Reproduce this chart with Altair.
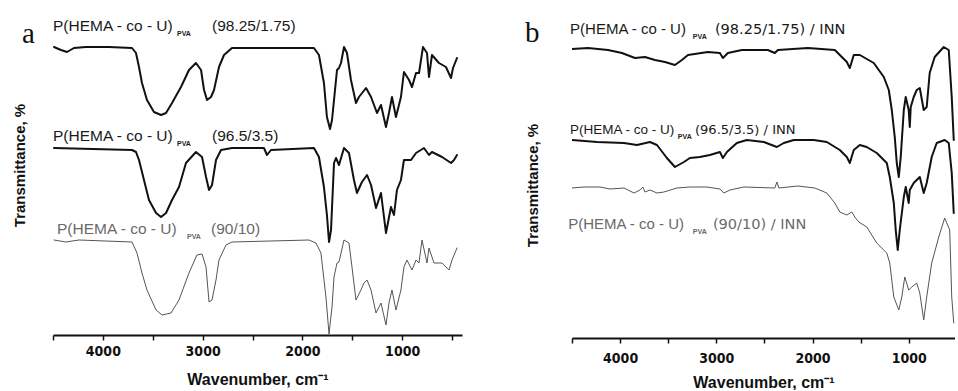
import altair as alt
import pandas as pd

# ---------------- data ----------------
# Panel a : P(HEMA-co-U)PVA spectra (transmittance, arbitrary offset units)
A1_WN = [4490,4420,4360,4290,4170,3940,3708,3668,3638,3608,3558,3488,3417,3367,3307,3217,3137,3067,3016,2986,
         2956,2916,2886,2836,2786,2706,2505,2365,2034,1884,1834,1784,1754,1723,1703,1673,1653,1633,1613,1583,
         1553,1513,1463,1433,1362,1312,1252,1212,1162,1132,1102,1062,1012,982,931,901,861,831,791,751,
         731,701,631,561,510,490,450]
A1_T = [288,285,283,287,288,288,287,282,268,252,235,223,220,222,232,248,265,272,265,245,
        235,238,245,268,280,287,287,287,287,287,280,252,218,206,215,245,265,267,272,288,
        282,255,232,238,247,238,222,230,208,222,238,218,238,263,255,248,262,262,288,282,
        258,280,272,268,257,267,277]

A2_WN = [4490,3708,3668,3638,3588,3538,3467,3417,3367,3307,3237,3167,3067,3006,2966,2936,2906,2866,2816,2706,
         2385,2355,2315,1884,1834,1784,1754,1733,1713,1683,1663,1633,1583,1533,1483,1453,1403,1352,1312,1262,
         1212,1162,1112,1082,1052,1012,982,911,861,781,731,701,600,510,480,450]
A2_T = [187,185,183,175,155,135,122,118,122,135,148,172,183,178,158,145,150,175,185,187,
        187,180,185,187,178,148,120,93,105,172,177,170,187,182,155,142,153,160,150,127,
        142,102,128,120,145,155,175,175,182,187,180,183,178,172,175,180]

A3_WN = [4490,4370,4240,3708,3658,3608,3558,3467,3407,3317,3237,3137,3057,3006,2966,2936,2906,2866,2836,2766,
         2706,1934,1864,1814,1764,1733,1703,1683,1653,1633,1583,1533,1503,1463,1413,1383,1352,1312,1262,1212,
         1162,1132,1102,1062,1012,982,952,901,861,831,801,751,731,681,600,530,500,450]
A3_T = [95,93,95,93,82,62,45,25,20,22,35,62,80,81,68,33,35,55,75,90,
        93,95,92,82,38,1,28,58,72,73,95,92,68,35,45,52,55,45,22,32,
        10,32,45,25,45,68,75,65,75,72,95,72,87,72,72,65,75,87]

# Panel b : P(HEMA-co-U)PVA / INN spectra
B1_WN = [4500,4334,4126,3981,3846,3742,3638,3534,3430,3358,3295,3088,2963,2932,2880,2735,2465,2392,2361,2049,
         1769,1696,1644,1613,1572,1509,1364,1260,1208,1177,1146,1125,1104,1084,1052,1032,1001,990,980,949,
         918,886,845,814,783,731,637,585,554,533]
B1_T = [289,290,288,285,280,281,278,276,273,278,283,286,285,280,285,288,288,285,288,290,
        288,281,276,270,283,283,275,261,248,228,201,175,161,181,228,241,228,211,231,241,
        248,250,228,231,265,281,291,288,241,198]

B2_WN = [4500,4240,3960,3825,3690,3617,3514,3430,3337,3275,3171,3067,2963,2932,2890,2787,2683,2506,2371,2299,
         2195,1987,1852,1717,1644,1613,1572,1509,1437,1333,1229,1198,1156,1136,1115,1094,1052,1032,1001,990,
         949,918,886,845,814,762,710,627,585,554,533]
B2_T = [198,196,195,193,196,193,180,171,176,180,181,183,186,180,186,195,198,196,191,195,
        198,198,196,188,181,175,188,193,191,185,175,161,135,108,88,108,141,151,135,148,
        155,158,161,145,155,181,195,198,195,165,125]

B3_WN = [4500,4375,4209,4105,3960,3856,3794,3763,3742,3690,3617,3545,3410,3275,3098,2963,2922,2859,2714,2392,
         2371,2350,2153,1977,1852,1769,1717,1644,1592,1561,1520,1437,1333,1229,1198,1156,1104,1073,1042,1001,
         969,918,886,845,814,762,689,627,575,554,533]
B3_T = [150,151,151,149,150,145,148,151,146,148,145,146,150,151,151,149,145,148,151,150,
        156,150,152,150,145,135,126,123,126,121,116,111,95,85,75,41,28,41,61,48,
        51,55,45,18,41,75,101,120,108,41,15]

# curve labels: main text, subscript, remainder (positions in data units)
A_LAB_MAIN = ["P(HEMA - co - U)", "P(HEMA - co - U)", "P(HEMA - co - U)"]
A_LAB_REST = ["(98.25/1.75)", "(96.5/3.5)", "(90/10)"]
A_LAB_SIZE = [15.5, 15.5, 15.5]
A_LAB_X = [4500, 4500, 4460]
A_SUB_X = [3257, 3257, 3157]
A_REST_X = [2906, 2906, 2916]
A_LAB_T = [304, 194, 101]

B_LAB_MAIN = ["P(HEMA - co - U)", "P(HEMA - co - U)", "P(HEMA - co - U)"]
B_LAB_REST = ["(98.25/1.75) / INN", "(96.5/3.5) / INN", "(90/10) / INN"]
B_LAB_SIZE = [15, 13.5, 15]
B_LAB_X = [4520, 4520, 4540]
B_SUB_X = [3244, 3400, 3244]
B_REST_X = [3015, 3223, 3036]
B_LAB_T = [304, 204, 109]

SUBSCRIPT = "PVA"
LAB_COLORS = ["#1a1a1a", "#1a1a1a", "#6a6a6a"]
CURVE_COLORS = ["#111111", "#111111", "#555555"]
CURVE_WIDTHS = [2.0, 2.0, 1.0]

X_TICKS_A = [4500, 4000, 3500, 3000, 2500, 2000, 1500, 1000, 500]
X_TICKS_B = [4500, 4000, 3500, 3000, 2500, 2000, 1500, 1000]

SANS = "Liberation Sans"
WIDE = "DejaVu Sans"
NARROW = "Liberation Sans Narrow, DejaVu Sans Condensed, Liberation Sans"


def make_panel(curves, lab_main, lab_rest, lab_size, lab_x, sub_x, rest_x, lab_t,
               x_domain, ticks, y_max, width, height, letter, letter_xy,
               ytitle_x, ytitle_y, label_pad, xtitle_y, rest_font, rest_scale):
    xs = alt.Scale(domain=x_domain, reverse=True, nice=False, zero=False)
    ys = alt.Scale(domain=[0, y_max], nice=False, zero=False)
    xaxis = alt.Axis(values=ticks, format="d",
                     labelExpr="datum.value % 1000 === 0 ? datum.label : ''",
                     title="Wavenumber, cm\u207b\u00b9", titleFont=SANS, titleFontSize=16,
                     titleFontWeight="bold", titleColor="#111111", titleY=xtitle_y,
                     labelFont=NARROW, labelFontSize=14, labelFontWeight="bold",
                     labelColor="#111111", labelPadding=label_pad, labelFlush=False,
                     labelOverlap=False, tickSize=5, tickWidth=1.5, tickColor="#111111",
                     domainWidth=2, domainColor="#111111", grid=False)
    yaxis = alt.Axis(title="Transmittance, %", ticks=False, labels=False, domain=False,
                     grid=False, titleX=ytitle_x, titleY=ytitle_y, titleBaseline="middle",
                     titleAlign="center", titleAngle=270, titleFont=SANS, titleFontSize=15,
                     titleFontWeight="bold", titleColor="#111111")

    layers = []
    for (wn, t), col, w in zip(curves, CURVE_COLORS, CURVE_WIDTHS):
        df = pd.DataFrame({"wn": wn, "t": t, "i": list(range(len(wn)))})
        layers.append(
            alt.Chart(df).mark_line(color=col, strokeWidth=w, strokeJoin="round",
                                    strokeCap="round", clip=True)
            .encode(x=alt.X("wn:Q", scale=xs, axis=xaxis),
                    y=alt.Y("t:Q", scale=ys, axis=yaxis),
                    order=alt.Order("i:Q"))
        )

    lab = pd.DataFrame({"wn": lab_x, "t": lab_t, "txt": lab_main, "c": LAB_COLORS, "fs": lab_size})
    sub = pd.DataFrame({"wn": sub_x, "t": [v - 5 for v in lab_t], "txt": [SUBSCRIPT] * 3,
                        "c": LAB_COLORS, "fs": [7] * 3})
    rest = pd.DataFrame({"wn": rest_x, "t": lab_t, "txt": lab_rest, "c": LAB_COLORS,
                         "fs": [s * rest_scale for s in lab_size]})
    for df, weight, font in [(lab, "normal", SANS), (sub, "bold", SANS), (rest, "normal", rest_font)]:
        layers.append(
            alt.Chart(df).mark_text(align="left", baseline="alphabetic", font=font,
                                    fontWeight=weight)
            .encode(x=alt.X("wn:Q", scale=xs, axis=xaxis),
                    y=alt.Y("t:Q", scale=ys, axis=yaxis),
                    text="txt:N", color=alt.Color("c:N", scale=None),
                    size=alt.Size("fs:Q", scale=None))
        )

    let_df = pd.DataFrame({"l": [letter]})
    layers.append(
        alt.Chart(let_df).mark_text(align="left", baseline="alphabetic",
                                    font="Liberation Serif", fontSize=29, color="#111111")
        .encode(text="l:N", x=alt.value(letter_xy[0]), y=alt.value(letter_xy[1]))
    )
    return alt.layer(*layers).properties(width=width, height=height)


panel_a = make_panel([(A1_WN, A1_T), (A2_WN, A2_T), (A3_WN, A3_T)],
                     A_LAB_MAIN, A_LAB_REST, A_LAB_SIZE, A_LAB_X, A_SUB_X, A_REST_X, A_LAB_T,
                     [400, 4500], X_TICKS_A, 325, 409, 325, "a", (-31, 33),
                     -34, 155, 4, 36, SANS, 1.0)
panel_b = make_panel([(B1_WN, B1_T), (B2_WN, B2_T), (B3_WN, B3_T)],
                     B_LAB_MAIN, B_LAB_REST, B_LAB_SIZE, B_LAB_X, B_SUB_X, B_REST_X, B_LAB_T,
                     [520, 4500], X_TICKS_B, 328, 383, 328, "b", (-47, 32),
                     -40, 175, 8, 36, WIDE, 0.97)

chart = (alt.hconcat(panel_a, panel_b, spacing=63)
         .properties(padding={"left": 12, "top": 10, "right": 0, "bottom": 0},
                     background="white")
         .configure_view(stroke=None))

chart.save("out.html", embed_options={"renderer": "svg", "actions": False})
